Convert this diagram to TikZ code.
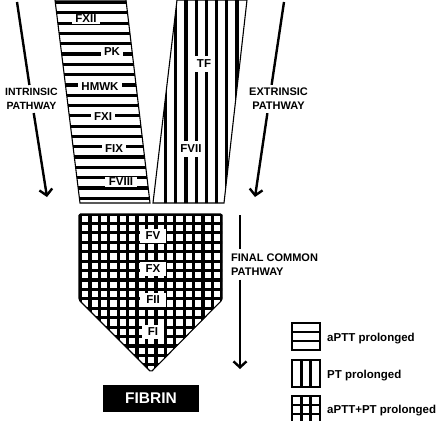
\documentclass[tikz,border=0pt]{standalone}
\usepackage{fontspec}
\setmainfont{Liberation Sans}
\usetikzlibrary{arrows.meta}
\begin{document}
\begin{tikzpicture}[x=1pt,y=-1pt,
  hatch/.style={line width=3.2pt},
  outl/.style={line width=1.1pt},
  lab/.style={fill=white, font=\bfseries\fontsize{11.5}{13}\selectfont, inner xsep=3.5pt, inner ysep=1.5pt},
  glab/.style={lab, inner xsep=6pt, inner ysep=3pt},
  pathtxt/.style={font=\bfseries\fontsize{11}{14.3}\selectfont, align=center, inner sep=1.5pt},
  arr/.style={line width=2.4pt, -{Straight Barb[length=6pt,width=13pt,line width=2.4pt]}},
  seg/.style={line width=2.4pt},
  leg/.style={font=\bfseries\fontsize{11.5}{13}\selectfont, anchor=west, inner sep=0pt},
  legbox/.style={line width=1.3pt},
  leghatch/.style={line width=2.6pt},
]
\useasboundingbox (0,0) rectangle (440,421);
% ---------- intrinsic parallelogram (horizontal hatch)
\begin{scope}
  \clip (55,0) -- (126,0) -- (150,203) -- (80,203) -- cycle;
  \foreach \i in {0,...,19} \draw[hatch] (40,{2.5+10.3*\i}) -- (170,{2.5+10.3*\i});
\end{scope}
\draw[outl] (55,0) -- (126,0) -- (150,203) -- (80,203) -- cycle;
\node[lab] (fxii) at (86,19) {FXII};
\node[lab] (pk) at (112,52) {PK};
\node[lab] (hmwk) at (100,87) {HMWK};
\node[lab] (fxi) at (103,117) {FXI};
\node[lab] (fix) at (114,149) {FIX};
\node[lab] (fviii) at (121,182) {FVIII};
% ---------- extrinsic trapezoid (vertical hatch)
\begin{scope}
  \clip (177,0) -- (247,0) -- (224,203) -- (153,203) -- cycle;
  \foreach \i in {0,...,7} \draw[hatch] ({165.5+10.2*\i},-5) -- ({165.5+10.2*\i},210);
\end{scope}
\draw[outl] (177,0) -- (247,0) -- (224,203) -- (153,203) -- cycle;
\node[lab, inner ysep=4pt] (tf) at (204,64) {TF};
\node[lab, inner ysep=4pt] (fvii) at (191,149) {FVII};
% ---------- final common pentagon (grid)
\begin{scope}
  \clip (79,214) -- (222,214) -- (222,300) -- (151,372) -- (79,300) -- cycle;
  \foreach \i in {0,...,15} \draw[hatch] ({80.5+9.43*\i},205) -- ({80.5+9.43*\i},380);
  \foreach \i in {0,...,17} \draw[hatch] (70,{214+9.43*\i}) -- (230,{214+9.43*\i});
\end{scope}
\draw[outl, rounded corners=1.5pt] (79,214) -- (222,214) -- (222,300) -- (151,372) -- (79,300) -- cycle;
\node[glab] (fv) at (153,236) {FV};
\node[glab] (fx) at (153,269) {FX};
\node[glab] (fii) at (153,300) {FII};
\node[glab] (fi) at (153,332) {FI};
% ---------- fibrin
\node[fill=black, text=white, font=\bfseries\fontsize{15.5}{17}\selectfont,
      minimum width=96pt, minimum height=27pt, inner sep=0pt] (fibrin) at (151,398.5) {FIBRIN};
% ---------- pathway arrows
\coordinate (ia) at (17,2);
\coordinate (ib) at (47,197);
\node[pathtxt, font=\bfseries\fontsize{10.5}{14.3}\selectfont, inner ysep=3pt] (intr) at (31.5,99) {INTRINSIC\\PATHWAY};
\draw[seg] (ia) -- (intr);
\draw[arr] (intr) -- (ib);
\coordinate (ea) at (284,2);
\coordinate (eb) at (255,197);
\node[pathtxt, inner ysep=3pt] (extr) at (269.5,99) {\phantom{EXTRINSIC}\\\phantom{PATHWAY}};
\node[pathtxt] (extrt) at (278.5,99) {EXTRINSIC\\PATHWAY};
\draw[seg] (ea) -- (extr);
\draw[arr] (extr) -- (eb);
\coordinate (fa) at (240,215);
\coordinate (fb) at (240,369);
\node[pathtxt, align=left, anchor=west, inner xsep=0pt, inner ysep=4pt] (fcp) at (231,264.5) {FINAL COMMON\\PATHWAY};
\draw[seg] (fa) -- (fa |- fcp.north);
\draw[arr] (fa |- fcp.south) -- (fb);
% ---------- legend
\draw[legbox] (292,323) rectangle (320,350);
\draw[leghatch] (292,332) -- (320,332) (292,341) -- (320,341);
\node[leg] (l1) at (327,339) {aPTT prolonged};
\draw[legbox] (292,360) rectangle (320,387);
\draw[leghatch] (301.3,360) -- (301.3,387) (310.7,360) -- (310.7,387);
\node[leg] (l2) at (327,376) {PT prolonged};
\draw[legbox] (292,396) rectangle (320,423);
\draw[leghatch] (301.3,396) -- (301.3,421) (310.7,396) -- (310.7,421)
      (292,405) -- (320,405) (292,414) -- (320,414);
\node[leg] (l3) at (327,411) {aPTT+PT prolonged};
\end{tikzpicture}
\end{document}
